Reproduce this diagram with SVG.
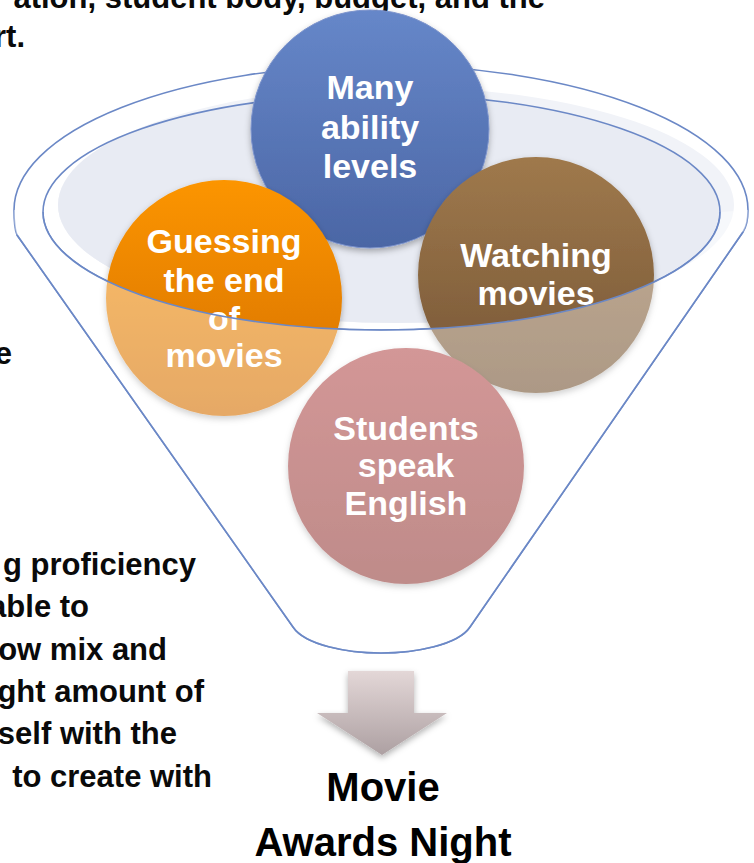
<svg xmlns="http://www.w3.org/2000/svg" width="754" height="863" viewBox="0 0 754 863">
<style>
.side{font-family:"Liberation Sans",Arial,sans-serif;font-weight:bold;font-size:31px;fill:#0a0a0a;text-anchor:end}
.lbl{font-family:"Liberation Sans",Arial,sans-serif;font-weight:bold;font-size:34px;fill:#ffffff;text-anchor:middle}
.out{font-family:"Liberation Sans",Arial,sans-serif;font-weight:bold;font-size:40px;fill:#000;text-anchor:middle}
.ln{fill:none;stroke:#6b88c6;stroke-width:1.6}
</style>
<defs>
<linearGradient id="gBlue" x1="0" y1="0" x2="0" y2="1"><stop offset="0" stop-color="#6687c9"/><stop offset="1" stop-color="#4b66a5"/></linearGradient>
<linearGradient id="gOr" x1="0" y1="0" x2="0" y2="1"><stop offset="0" stop-color="#fc9500"/><stop offset="1" stop-color="#d57000"/></linearGradient>
<linearGradient id="gBr" x1="0" y1="0" x2="0" y2="1"><stop offset="0" stop-color="#9f794c"/><stop offset="1" stop-color="#765636"/></linearGradient>
<linearGradient id="gRd" x1="0" y1="0" x2="0" y2="1"><stop offset="0" stop-color="#b65252"/><stop offset="1" stop-color="#943f3c"/></linearGradient>
<linearGradient id="gAr" x1="0" y1="0" x2="0" y2="1"><stop offset="0" stop-color="#e3d7d7"/><stop offset="1" stop-color="#ada0a2"/></linearGradient>
<filter id="sh" x="-20%" y="-20%" width="140%" height="150%"><feDropShadow dx="0" dy="3" stdDeviation="3" flood-color="#000" flood-opacity="0.3"/></filter>
<clipPath id="cInner"><ellipse cx="381.5" cy="212" rx="338.5" ry="118"/></clipPath>
</defs>

<g id="side-text">
<text class="side" x="545" y="8">ation, student body, budget, and the</text>
<text class="side" x="25" y="47">rt.</text>
<text class="side" x="12" y="364">e</text>
<text class="side" x="196" y="575">g proficiency</text>
<text class="side" x="89" y="617">able to</text>
<text class="side" x="167" y="660">ow mix and</text>
<text class="side" x="204" y="702">ght amount of</text>
<text class="side" x="177" y="744">self with the</text>
<text class="side" x="212" y="787">to create with</text>
</g>

<g id="funnel-back">
<path class="ln" d="M17,235 C14,228 14,218 14,210 A367,145 0 0 1 748,210 C748,218 747,226 743,232 L470,627 C458,645 415,653 381,653 C347,653 305,645 293,627 Z" fill="#ffffff"/>
<ellipse cx="396" cy="205" rx="338" ry="118" fill="#f1f3f8"/>
<ellipse cx="396" cy="205" rx="338" ry="118" fill="#e8ebf3" clip-path="url(#cInner)"/>
<ellipse class="ln" cx="381.5" cy="212" rx="338.5" ry="118"/>
</g>

<g id="node-many">
<circle cx="370" cy="129" r="119" fill="url(#gBlue)" stroke="#7d94cc" stroke-width="1" filter="url(#sh)"/>
<text class="lbl" x="370" y="99">Many</text>
<text class="lbl" x="370" y="139">ability</text>
<text class="lbl" x="370" y="178">levels</text>
</g>

<g id="node-guessing">
<circle cx="224" cy="298" r="118" fill="url(#gOr)" filter="url(#sh)"/>
<text class="lbl" x="224" y="253">Guessing</text>
<text class="lbl" x="224" y="292">the end</text>
<text class="lbl" x="224" y="330">of</text>
<text class="lbl" x="224" y="367">movies</text>
</g>

<g id="node-watching">
<circle cx="536" cy="275" r="118" fill="url(#gBr)" filter="url(#sh)"/>
<text class="lbl" x="536" y="267">Watching</text>
<text class="lbl" x="536" y="305">movies</text>
</g>

<g id="node-students">
<circle cx="406" cy="466" r="118" fill="url(#gRd)" filter="url(#sh)"/>
<text class="lbl" x="406" y="440">Students</text>
<text class="lbl" x="406" y="477">speak</text>
<text class="lbl" x="406" y="515">English</text>
</g>

<g id="funnel-front">
<path d="M43,212 A338.5,118 0 0 0 720,212 L748,210 C748,218 747,226 743,232 L470,627 C458,645 415,653 381,653 C347,653 305,645 293,627 L17,235 C14,228 14,218 14,210 Z" fill="#ffffff" fill-opacity="0.4"/>
<path class="ln" d="M43,212 A338.5,118 0 0 0 720,212"/>
<path class="ln" d="M17,235 L293,627 C305,645 347,653 381,653 C415,653 458,645 470,627 L743,232"/>
</g>

<g id="connectors">
<path d="M348,671 H414 V713 H447 L382,755 L317,713 H348 Z" fill="url(#gAr)" filter="url(#sh)"/>
</g>

<g id="node-result">
<text class="out" x="383" y="801">Movie</text>
<text class="out" x="383" y="856">Awards Night</text>
</g>
</svg>
